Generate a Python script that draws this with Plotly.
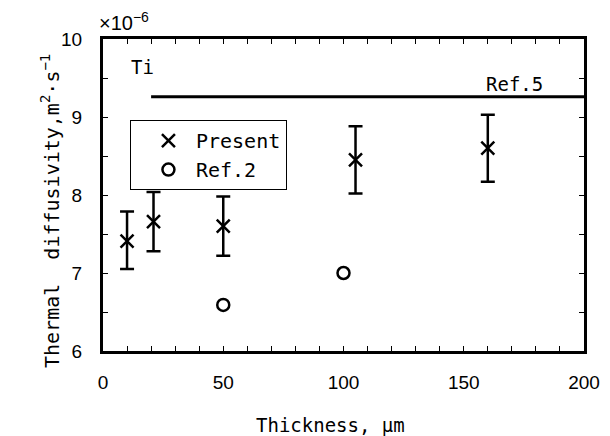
import plotly.graph_objects as go

# Data
present_x = [10, 21, 50, 105, 160]
present_y = [7.41, 7.66, 7.60, 8.45, 8.60]
present_err_plus = [0.38, 0.38, 0.38, 0.43, 0.43]
present_err_minus = [0.36, 0.38, 0.38, 0.43, 0.43]

ref2_x = [50, 100]
ref2_y = [6.59, 7.00]

ref5_x = [20, 200]
ref5_y = [9.26, 9.26]

x_ticks = [0, 50, 100, 150, 200]
y_ticks = [6, 7, 8, 9, 10]

mono = "DejaVu Sans Mono"
sans = "Liberation Sans, Arial"

fig = go.Figure()

fig.add_trace(go.Scatter(
    x=present_x, y=present_y, mode="markers", name="Present",
    marker=dict(symbol="x-thin-open", size=13, color="black",
                line=dict(color="black", width=2.5)),
    error_y=dict(type="data", array=present_err_plus, arrayminus=present_err_minus,
                 color="black", thickness=2.5, width=7),
))
fig.add_trace(go.Scatter(
    x=ref2_x, y=ref2_y, mode="markers", name="Ref.2",
    marker=dict(symbol="circle-open", size=12, color="black",
                line=dict(color="black", width=2.5)),
))
fig.add_trace(go.Scatter(
    x=ref5_x, y=ref5_y, mode="lines", showlegend=False,
    line=dict(color="black", width=3),
))

fig.add_annotation(x=200, y=9.26, xref="x", yref="y", text="Ref.5",
                   showarrow=False, xanchor="right", yanchor="bottom",
                   xshift=-39, yshift=0, font=dict(family=mono, size=19, color="black"))
fig.add_annotation(x=11, y=9.64, xref="x", yref="y", text="Ti",
                   showarrow=False, xanchor="left", yanchor="middle",
                   font=dict(family=mono, size=19, color="black"))
fig.add_annotation(x=-0.013, y=1.0, xref="paper", yref="paper",
                   text="×10<sup>−6</sup>", showarrow=False,
                   xanchor="left", yanchor="bottom", yshift=3,
                   font=dict(family=sans, size=20, color="black"))

# axis titles as annotations (positioned like the reference)
fig.add_annotation(x=-0.11, y=0.449, xref="paper", yref="paper",
                   text="Thermal  diffusivity,m<sup>2</sup>·s<sup>−1</sup>",
                   textangle=-90, showarrow=False, xanchor="center", yanchor="middle",
                   font=dict(family=mono, size=20, color="black"))
fig.add_annotation(x=0.474, y=-0.197, xref="paper", yref="paper",
                   text="Thickness, μm", showarrow=False,
                   xanchor="center", yanchor="top",
                   font=dict(family=mono, size=19, color="black"))

axis_common = dict(showline=True, linecolor="black", linewidth=3, mirror="ticks",
                   ticks="inside", tickcolor="black", ticklen=5, tickwidth=1,
                   showgrid=False, zeroline=False, automargin=False,
                   tickfont=dict(family=sans, size=19, color="black"))

fig.update_xaxes(range=[0, 200], tickvals=x_ticks, ticklabelstandoff=12,
                 minor=dict(dtick=10, ticks="inside", ticklen=5, tickcolor="black", tickwidth=1),
                 **axis_common)
fig.update_yaxes(range=[6, 10], tickvals=y_ticks, ticklabelstandoff=14,
                 minor=dict(dtick=0.5, ticks="inside", ticklen=5, tickcolor="black", tickwidth=1),
                 **axis_common)

fig.update_layout(
    width=610, height=436,
    margin=dict(l=103, r=26, t=39, b=85),
    paper_bgcolor="white", plot_bgcolor="white",
    legend=dict(x=0.056, y=0.74, xanchor="left", yanchor="top",
                bgcolor="white", bordercolor="black", borderwidth=1,
                font=dict(family=mono, size=20, color="black"),
                itemwidth=45, tracegroupgap=0, indentation=10),
)

fig.write_html("out.html", post_script="document.body.style.margin='0';",
               config={"displayModeBar": False})
